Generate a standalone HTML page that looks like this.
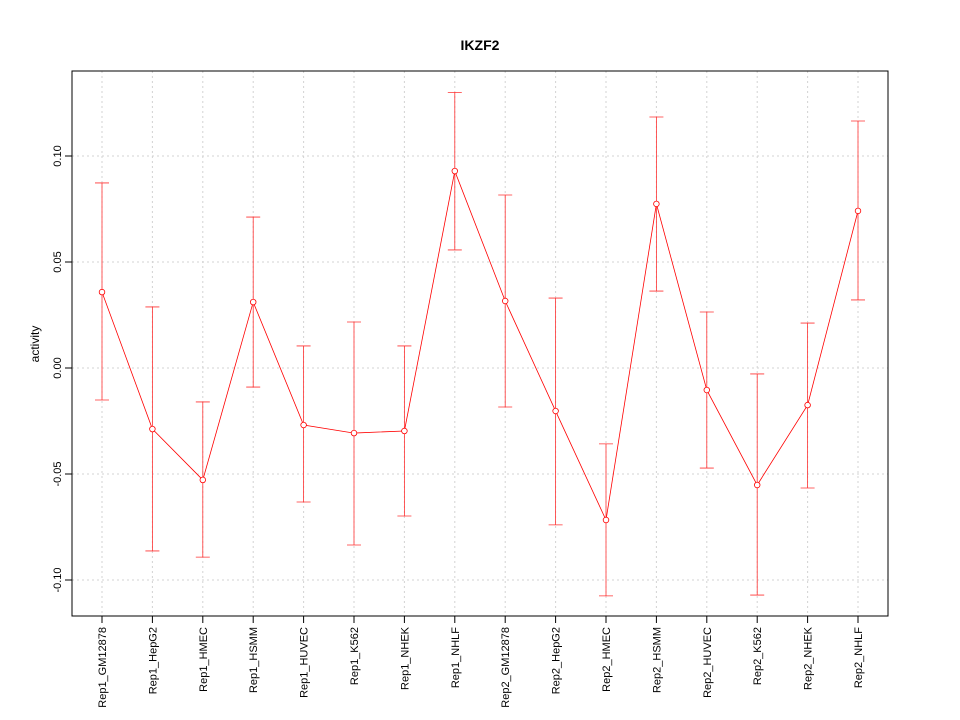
<!DOCTYPE html>
<html><head><meta charset="utf-8"><style>
body{margin:0;background:#fff}
svg{display:block;font-family:"Liberation Sans",sans-serif}
</style></head><body>
<svg id="chart" width="960" height="720">
<text x="480" y="50" text-anchor="middle" font-weight="bold" font-size="14">IKZF2</text>
<text transform="translate(39,344) rotate(-90)" text-anchor="middle" font-size="12">activity</text>
<g id="grid"></g><g id="axes"></g><g id="marks"></g>
</svg>
<script>
const categories=["Rep1_GM12878","Rep1_HepG2","Rep1_HMEC","Rep1_HSMM","Rep1_HUVEC","Rep1_K562","Rep1_NHEK","Rep1_NHLF","Rep2_GM12878","Rep2_HepG2","Rep2_HMEC","Rep2_HSMM","Rep2_HUVEC","Rep2_K562","Rep2_NHEK","Rep2_NHLF"];
const values=[0.0358,-0.0288,-0.0528,0.0311,-0.0269,-0.0307,-0.0297,0.0929,0.0316,-0.0203,-0.0717,0.0774,-0.0104,-0.0552,-0.0175,0.0741];
const upper=[0.0873,0.0288,-0.016,0.0712,0.0104,0.0217,0.0104,0.130,0.0816,0.033,-0.0358,0.1184,0.0264,-0.0028,0.0212,0.1165];
const lower=[-0.0151,-0.0863,-0.0892,-0.009,-0.0632,-0.0835,-0.0698,0.0557,-0.0184,-0.074,-0.1075,0.0363,-0.0472,-0.1071,-0.0566,0.0321];
const yTicks=[-0.10,-0.05,0.00,0.05,0.10];
const yTickLabels=["-0.10","-0.05","0.00","0.05","0.10"];

const NS="http://www.w3.org/2000/svg";
const L=72,R=888,T=71,B=616;
const x=i=>102+(858-102)*i/(categories.length-1);
const y=v=>368-2120*v;
function mk(parent,tag,attrs){const e=document.createElementNS(NS,tag);for(const k in attrs)e.setAttribute(k,attrs[k]);document.getElementById(parent).appendChild(e);return e;}

categories.forEach((c,i)=>{
  const g=mk('grid','line',{x1:x(i),x2:x(i),y1:T,y2:B,stroke:'#d3d3d3','stroke-dasharray':'2,3'});
  
  
  const t=mk('axes','line',{x1:x(i),x2:x(i),y1:B,y2:B+7,stroke:'#000'});
  
  
  const lb=mk('axes','text',{transform:`translate(${x(i)+4},${B+11}) rotate(-90)`,'text-anchor':'end','font-size':'11'});
  lb.textContent=c;
  
  
});
yTicks.forEach((v,i)=>{
  const g=mk('grid','line',{x1:L,x2:R,y1:y(v),y2:y(v),stroke:'#d3d3d3','stroke-dasharray':'2,3'});
  
  
  const t=mk('axes','line',{x1:L-7,x2:L,y1:y(v),y2:y(v),stroke:'#000'});
  
  
  const lb=mk('axes','text',{transform:`translate(${L-11},${y(v)}) rotate(-90)`,'text-anchor':'middle','font-size':'11'});
  lb.textContent=yTickLabels[i];
  
  
});
const box=mk('axes','rect',{x:L,y:T,width:R-L,height:B-T,fill:'none',stroke:'#000'});



values.forEach((v,i)=>{
  const eb=mk('marks','path',{d:`M${x(i)},${y(upper[i])}V${y(lower[i])}M${x(i)-7},${y(upper[i])}H${x(i)+7}M${x(i)-7},${y(lower[i])}H${x(i)+7}`,stroke:'#f33','stroke-width':'0.8',fill:'none'});
  
  
});
const line=mk('marks','polyline',{points:values.map((v,i)=>x(i)+','+y(v)).join(' '),fill:'none',stroke:'#f00','stroke-width':'0.8'});


values.forEach((v,i)=>{
  const p=mk('marks','circle',{cx:x(i),cy:y(v),r:2.8,fill:'#fff',stroke:'#f00','stroke-width':'0.8'});
  
  
});
</script>
</body></html>
